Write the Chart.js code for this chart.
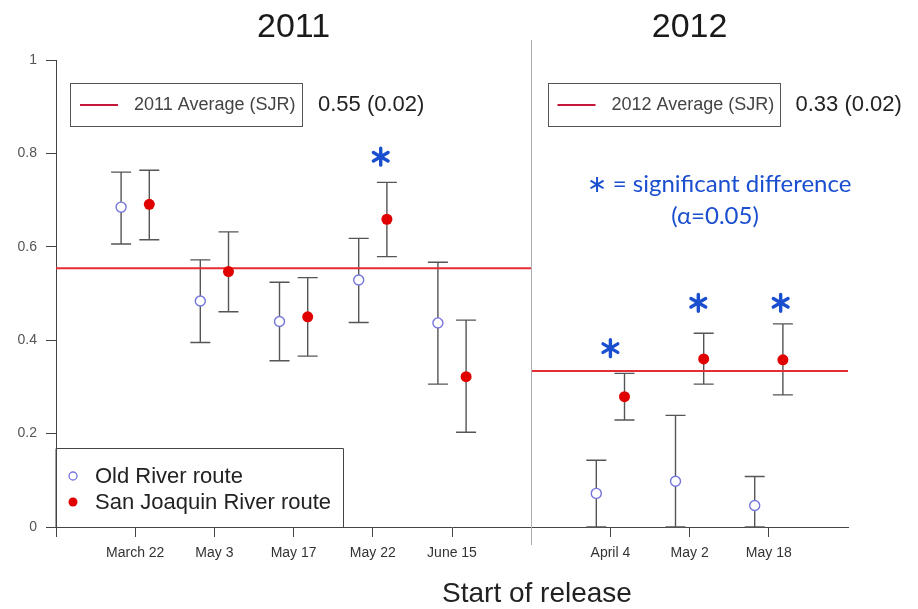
<!DOCTYPE html>
<html>
<head>
<meta charset="utf-8">
<script src="https://cdn.jsdelivr.net/npm/chart.js@4.4.1/dist/chart.umd.min.js"></script>
<style>
  html, body { margin: 0; padding: 0; background: #fff; }
  #wrap { width: 918px; height: 609px; }
</style>
</head>
<body>
<div id="wrap"><canvas id="survivalChart" width="918" height="609"></canvas></div>
<script>
// release groups (x positions on a 0..10 axis, 6 = year divider)
const categories = ["March 22", "May 3", "May 17", "May 22", "June 15", "April 4", "May 2", "May 18"];
const catX = [1, 2, 3, 4, 5, 7, 8, 9];

// Old River route estimates with CI
const oldMean = [0.685, 0.484, 0.440, 0.529, 0.437, 0.072, 0.098, 0.046];
const oldLow = [0.606, 0.395, 0.356, 0.438, 0.306, 0.000, 0.000, 0.000];
const oldHigh = [0.760, 0.572, 0.524, 0.618, 0.567, 0.143, 0.239, 0.108];

// San Joaquin River route estimates with CI
const sjrMean = [0.691, 0.547, 0.450, 0.659, 0.322, 0.279, 0.360, 0.358];
const sjrLow = [0.615, 0.461, 0.366, 0.579, 0.203, 0.229, 0.306, 0.283];
const sjrHigh = [0.764, 0.632, 0.534, 0.738, 0.443, 0.329, 0.415, 0.435];

// yearly SJR averages
const avgValues = [0.554, 0.334];
const avgLabels = ["2011 Average (SJR)", "2012 Average (SJR)"];
const avgTexts = ["0.55 (0.02)", "0.33 (0.02)"];
const years = ["2011", "2012"];

// significance markers
const starX = [4.1, 7.0, 8.11, 9.15];
const starY = [0.793, 0.383, 0.48, 0.48];

const yTicks = [0, 0.2, 0.4, 0.6, 0.8, 1];
const xTickPos = [0, 1, 2, 3, 4, 5, 7, 8, 9];

const colors = {
    oldRoute: "#7474dc",
    sjrRoute: "#e00000",
    average: "#e52d33",
    legendLine: "#c8163a",
    errorBar: "#555",
    axis: "#444",
    blue: "#1a4fcf",
};

const OFFSET = 0.178;

const errorBars = {
    id: "errorBars",
    beforeDatasetsDraw(chart) {
        const { ctx, scales: { x, y } } = chart;
        ctx.save();
        ctx.strokeStyle = colors.errorBar;
        ctx.lineWidth = 1.4;
        const draw = (cx, lo, hi) => {
            const px = x.getPixelForValue(cx);
            const p1 = y.getPixelForValue(lo);
            const p2 = y.getPixelForValue(hi);
            ctx.beginPath();
            ctx.moveTo(px, p1); ctx.lineTo(px, p2);
            ctx.moveTo(px - 10, p1); ctx.lineTo(px + 10, p1);
            ctx.moveTo(px - 10, p2); ctx.lineTo(px + 10, p2);
            ctx.stroke();
        };
        catX.forEach((c, i) => {
            draw(c - OFFSET, oldLow[i], oldHigh[i]);
            draw(c + OFFSET, sjrLow[i], sjrHigh[i]);
        });
        ctx.restore();
    },
};

const annotations = {
    id: "annotations",
    afterDraw(chart) {
        const { ctx, scales: { x, y }, chartArea } = chart;
        ctx.save();

        // year divider
        const dx = Math.round(x.getPixelForValue(6)) + 0.5;
        ctx.strokeStyle = "#b0b0b0";
        ctx.lineWidth = 1;
        ctx.beginPath();
        ctx.moveTo(dx, 40);
        ctx.lineTo(dx, 545);
        ctx.stroke();

        // year titles
        ctx.fillStyle = "#1a1a1a";
        ctx.font = "34px 'Liberation Sans', Arial, sans-serif";
        ctx.textAlign = "center";
        ctx.textBaseline = "middle";
        ctx.fillText(years[0], x.getPixelForValue(3), 28);
        ctx.fillText(years[1], x.getPixelForValue(8), 28);

        // average legend boxes
        const boxLeft = [chartArea.left + 14, dx + 16];
        boxLeft.forEach((bx, i) => {
            ctx.strokeStyle = "#555";
            ctx.lineWidth = 1;
            ctx.strokeRect(Math.round(bx) + 0.5, 83.5, 232, 43);
            ctx.strokeStyle = colors.legendLine;
            ctx.lineWidth = 2;
            ctx.beginPath();
            ctx.moveTo(bx + 10, 105);
            ctx.lineTo(bx + 48, 105);
            ctx.stroke();
            ctx.fillStyle = "#444";
            ctx.font = "18px 'Liberation Sans', Arial, sans-serif";
            ctx.textAlign = "left";
            ctx.fillText(avgLabels[i], bx + 64, 105);
            ctx.fillStyle = "#222";
            ctx.font = "22px 'Liberation Sans', Arial, sans-serif";
            ctx.fillText(avgTexts[i], bx + 248, 105);
        });

        // significance note
        ctx.fillStyle = colors.blue;
        ctx.textAlign = "center";
        ctx.font = "24px Lato, 'Noto Sans', sans-serif";
        ctx.fillText("\u2217 = significant difference", 719, 184);
        ctx.fillText("(\u03B1=0.05)", 715, 216);

        // stars
        ctx.strokeStyle = colors.blue;
        ctx.lineWidth = 3.4;
        ctx.lineCap = "round";
        starX.forEach((sx, i) => {
            const cx = x.getPixelForValue(sx);
            const cy = y.getPixelForValue(starY[i]);
            ctx.beginPath();
            for (let k = 0; k < 3; k++) {
                const a = Math.PI / 2 + k * Math.PI / 3;
                ctx.moveTo(cx + 8.5 * Math.cos(a), cy + 8.5 * Math.sin(a));
                ctx.lineTo(cx - 8.5 * Math.cos(a), cy - 8.5 * Math.sin(a));
            }
            ctx.stroke();
        });
        ctx.lineCap = "butt";

        // route legend
        const lx = chartArea.left;
        ctx.strokeStyle = "#444";
        ctx.lineWidth = 1;
        ctx.fillStyle = "#fff";
        ctx.fillRect(lx + 1, 448, 286, chartArea.bottom - 449);
        ctx.beginPath();
        ctx.moveTo(lx, chartArea.bottom);
        ctx.lineTo(lx, 448.5);
        ctx.lineTo(343.5, 448.5);
        ctx.lineTo(343.5, chartArea.bottom);
        ctx.stroke();
        ctx.beginPath();
        ctx.arc(lx + 17, 476, 4, 0, Math.PI * 2);
        ctx.fillStyle = "#fff";
        ctx.fill();
        ctx.strokeStyle = colors.oldRoute;
        ctx.lineWidth = 1.3;
        ctx.stroke();
        ctx.beginPath();
        ctx.arc(lx + 17, 502, 4.5, 0, Math.PI * 2);
        ctx.fillStyle = colors.sjrRoute;
        ctx.fill();
        ctx.fillStyle = "#222";
        ctx.textAlign = "left";
        ctx.font = "22px 'Liberation Sans', Arial, sans-serif";
        ctx.fillText("Old River route", lx + 39, 477);
        ctx.fillText("San Joaquin River route", lx + 39, 503);

        // x axis title
        ctx.fillStyle = "#222";
        ctx.textAlign = "center";
        ctx.font = "28px 'Liberation Sans', Arial, sans-serif";
        ctx.fillText("Start of release", 537, 594);

        ctx.restore();
    },
};

new Chart(document.getElementById("survivalChart").getContext("2d"), {
    type: "scatter",
    data: {
        datasets: [
            {
                label: "San Joaquin River route",
                data: catX.map((c, i) => ({ x: c + OFFSET, y: sjrMean[i] })),
                backgroundColor: colors.sjrRoute,
                borderColor: colors.sjrRoute,
                pointRadius: 5.5,
                borderWidth: 0,
            },
            {
                label: "Old River route",
                data: catX.map((c, i) => ({ x: c - OFFSET, y: oldMean[i] })),
                backgroundColor: "#fff",
                borderColor: colors.oldRoute,
                pointRadius: 5,
                borderWidth: 1.4,
            },
            {
                type: "line",
                label: avgLabels[0],
                data: [{ x: 0, y: avgValues[0] }, { x: 6, y: avgValues[0] }],
                borderColor: colors.average,
                borderWidth: 2,
                pointRadius: 0,
            },
            {
                type: "line",
                label: avgLabels[1],
                data: [{ x: 6, y: avgValues[1] }, { x: 10, y: avgValues[1] }],
                borderColor: colors.average,
                borderWidth: 2,
                pointRadius: 0,
            },
        ],
    },
    options: {
        responsive: false,
        animation: false,
        layout: {
            padding: { top: 60, right: 70, left: 0, bottom: 0 },
        },
        plugins: {
            legend: { display: false },
            tooltip: { enabled: false },
        },
        scales: {
            x: {
                type: "linear",
                min: 0,
                max: 10,
                afterBuildTicks(scale) {
                    scale.ticks = xTickPos.map((v) => ({ value: v }));
                },
                afterFit(scale) {
                    scale.height = 82;
                },
                ticks: {
                    autoSkip: false,
                    maxRotation: 0,
                    padding: 8,
                    color: "#333",
                    font: { family: "'Liberation Sans', Arial, sans-serif", size: 14 },
                    callback(value) {
                        const i = catX.indexOf(value);
                        return i >= 0 ? categories[i] : "";
                    },
                },
                grid: {
                    drawOnChartArea: false,
                    drawTicks: true,
                    tickLength: 10,
                    color: colors.axis,
                },
                border: { display: true, color: colors.axis, width: 1 },
            },
            y: {
                min: 0,
                max: 1,
                afterBuildTicks(scale) {
                    scale.ticks = yTicks.map((v) => ({ value: v }));
                },
                afterFit(scale) {
                    scale.width = 56;
                },
                ticks: {
                    padding: 9,
                    color: "#555",
                    font: { family: "'Liberation Sans', Arial, sans-serif", size: 14 },
                    callback(value) {
                        return String(Math.round(value * 10) / 10);
                    },
                },
                grid: {
                    drawOnChartArea: false,
                    drawTicks: true,
                    tickLength: 10,
                    color: colors.axis,
                },
                border: { display: true, color: colors.axis, width: 1 },
            },
        },
    },
    plugins: [errorBars, annotations],
});
</script>
</body>
</html>
